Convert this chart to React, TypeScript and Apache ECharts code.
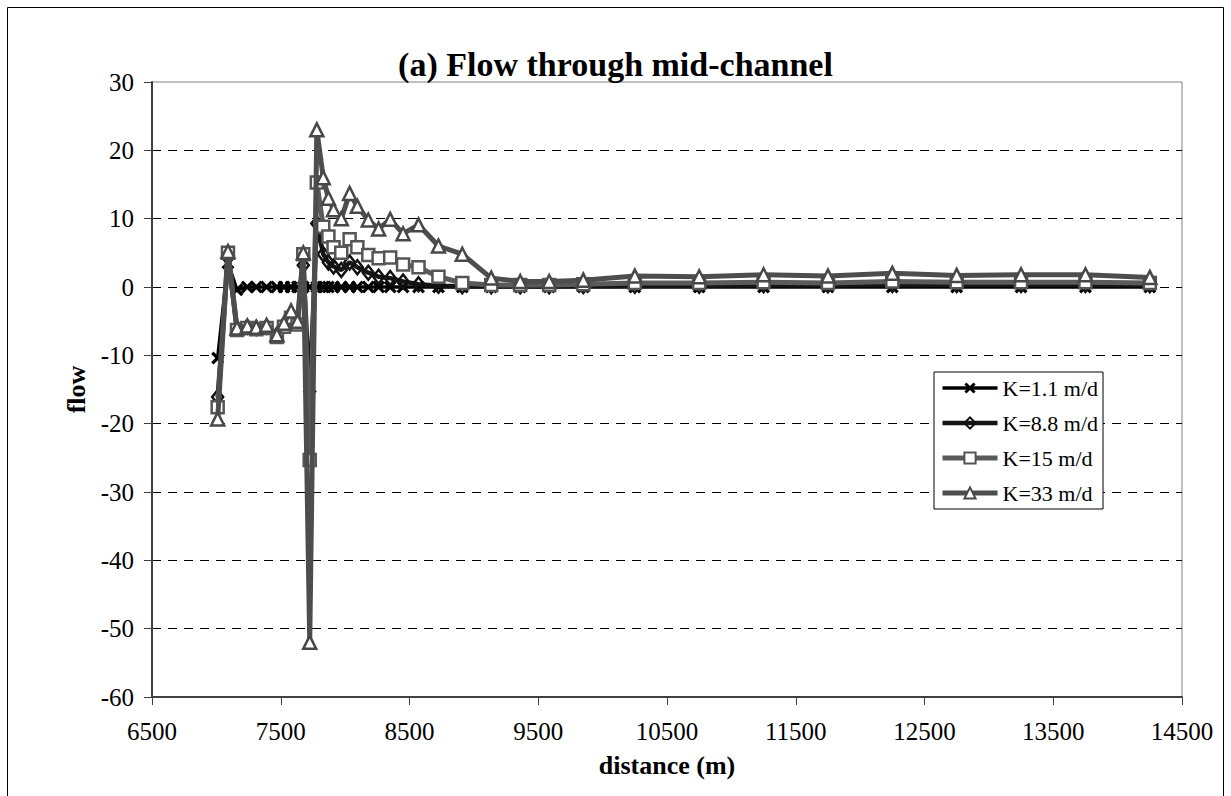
import React, { useEffect, useRef } from "react";
import * as echarts from "echarts";

const distance = [7010, 7090, 7160, 7240, 7310, 7390, 7470, 7525, 7580, 7630, 7675, 7725, 7780, 7830, 7870, 7910, 7970, 8035, 8095, 8180, 8260, 8350, 8450, 8570, 8725, 8910, 9135, 9360, 9585, 9850, 10250, 10750, 11250, 11750, 12250, 12750, 13250, 13750, 14250];

const k11 = [-10.4, 3.5, -0.4, 0, 0, 0, 0, 0, 0, 0, 0, 0, 0, 0, 0, 0, 0, 0, 0, 0, 0, 0, 0, 0, 0, 0, 0, 0, 0, 0, 0, 0, 0, 0, 0, 0, 0, 0, 0];
const k88 = [-16.1, 4.3, -6.0, -5.8, -6.0, -5.8, -7.0, -5.5, -4.0, -5.2, 3.2, -15.3, 9.3, 4.8, 3.6, 3.0, 2.5, 3.6, 2.9, 2.1, 1.5, 1.3, 0.8, 0.4, 0.2, 0.1, 0.1, 0.1, 0.1, 0.15, 0.2, 0.2, 0.25, 0.25, 0.3, 0.3, 0.3, 0.3, 0.25];
const k15 = [-17.6, 5.0, -6.3, -6.0, -6.2, -6.0, -7.3, -5.8, -4.5, -5.5, 4.8, -25.3, 15.3, 8.8, 7.4, 5.8, 5.0, 7.0, 5.8, 4.7, 4.2, 4.3, 3.3, 2.9, 1.5, 0.6, 0.3, 0.3, 0.3, 0.4, 0.6, 0.6, 0.7, 0.6, 0.8, 0.7, 0.7, 0.7, 0.6];
const k33 = [-19.3, 5.2, -6.0, -5.7, -5.9, -5.6, -7.0, -5.3, -3.5, -5.0, 5.0, -52, 23, 16, 13, 11.3, 10, 13.7, 11.8, 9.8, 8.5, 9.9, 7.8, 9.1, 6.0, 4.8, 1.3, 0.8, 0.8, 1.0, 1.6, 1.5, 1.8, 1.6, 2.0, 1.7, 1.8, 1.8, 1.4];

const seriesNames = ["K=1.1 m/d", "K=8.8 m/d", "K=15 m/d", "K=33 m/d"];
const xTicks = [6500, 7500, 8500, 9500, 10500, 11500, 12500, 13500, 14500];

const FONT = "'Liberation Serif', 'Times New Roman', serif";
const CROSS = "path://M1.8,0 L5,3.2 L8.2,0 L10,1.8 L6.8,5 L10,8.2 L8.2,10 L5,6.8 L1.8,10 L0,8.2 L3.2,5 L0,1.8 Z";

const pairs = (ys: number[]) => distance.map((x, i) => [x, ys[i]]);

export default function App() {
  const ref = useRef<HTMLDivElement>(null);
  useEffect(() => {
    if (!ref.current) return;
    const chart = echarts.init(ref.current, null, { renderer: "svg" });
    const styles = [
      { line: "#000", w: 3.5, border: "#000", fill: "#000", bw: 0 },
      { line: "#151515", w: 4.5, border: "#111", fill: "rgba(255,255,255,0)", bw: 2.5 },
      { line: "#5a5a5a", w: 5, border: "#555", fill: "#fff", bw: 2.5 },
      { line: "#4d4d4d", w: 5, border: "#484848", fill: "#fff", bw: 2.5 },
    ];
    const symbols = [CROSS, "diamond", "rect", "triangle"];
    const sizes: any[] = [13, [11, 14], 12, 13];
    const datasets = [k11, k88, k15, k33];
    chart.setOption({
      animation: false,
      backgroundColor: "#fff",
      title: {
        text: "(a) Flow through mid-channel",
        left: "center",
        top: 42,
        textStyle: { fontFamily: FONT, fontSize: 34, fontWeight: "bold", color: "#000" },
      },
      graphic: [
        {
          type: "rect",
          shape: { x: 7.5, y: 7.5, width: 1216, height: 820 },
          style: { fill: "none", stroke: "#000", lineWidth: 1 },
          silent: true,
        },
      ],
      grid: {
        left: 152,
        top: 82,
        right: 49,
        bottom: 99,
        show: true,
        borderColor: "#808080",
        borderWidth: 1,
        backgroundColor: "transparent",
      },
      legend: {
        orient: "vertical",
        left: 934,
        top: 372,
        data: seriesNames.map((n, i) => ({
          name: n,
          lineStyle: { width: styles[i].w, color: styles[i].line },
        })),
        itemWidth: 55,
        itemHeight: 14,
        itemGap: 13,
        padding: [5, 5, 5, 6],
        borderColor: "#000",
        borderWidth: 1,
        backgroundColor: "#fff",
        textStyle: { fontFamily: FONT, fontSize: 22, color: "#000" },
      },
      xAxis: {
        type: "value",
        min: 6500,
        max: 14500,
        name: "distance (m)",
        nameLocation: "middle",
        nameGap: 55,
        nameTextStyle: { fontFamily: FONT, fontSize: 26, fontWeight: "bold", color: "#000" },
        axisLine: { onZero: false, lineStyle: { color: "#404040", width: 2 } },
        axisTick: { show: true, length: 8, customValues: xTicks, lineStyle: { color: "#404040" } },
        axisLabel: {
          customValues: xTicks,
          margin: 22,
          fontFamily: FONT,
          fontSize: 25,
          color: "#000",
          formatter: (v: number) => String(v),
        },
        splitLine: { show: false },
      },
      yAxis: {
        type: "value",
        min: -60,
        max: 30,
        interval: 10,
        name: "flow",
        nameLocation: "middle",
        nameGap: 62,
        nameRotate: 90,
        nameTextStyle: { fontFamily: FONT, fontSize: 26, fontWeight: "bold", color: "#000" },
        axisLine: { show: true, lineStyle: { color: "#404040", width: 2 } },
        axisTick: { show: true, length: 8, lineStyle: { color: "#404040" } },
        axisLabel: { margin: 18, fontFamily: FONT, fontSize: 25, color: "#000", formatter: (v: number) => String(v) },
        splitLine: {
          show: true,
          showMinLine: false,
          showMaxLine: false,
          lineStyle: { color: "#000", width: 1, type: [9, 7] },
        },
      },
      series: datasets.map((d, i) => ({
        name: seriesNames[i],
        type: "line",
        data: pairs(d),
        symbol: symbols[i],
        symbolSize: sizes[i],
        itemStyle: { color: styles[i].fill, borderColor: styles[i].border, borderWidth: styles[i].bw },
        lineStyle: { color: styles[i].line, width: styles[i].w },
        z: 2 + i,
      })),
    });
    return () => chart.dispose();
  }, []);
  return (
    <div
      ref={ref}
      style={{ position: "absolute", left: 0, top: 0, width: 1231, height: 796 }}
    />
  );
}
